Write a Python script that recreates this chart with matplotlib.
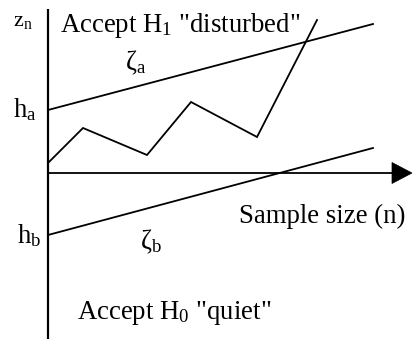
import matplotlib
matplotlib.use("Agg")
import matplotlib.pyplot as plt
from matplotlib.patches import Polygon

plt.rcParams["font.family"] = ["Liberation Serif", "DejaVu Serif"]
plt.rcParams["mathtext.fontset"] = "custom"
plt.rcParams["mathtext.rm"] = "Liberation Serif"
plt.rcParams["mathtext.it"] = "Liberation Serif"
plt.rcParams["mathtext.default"] = "regular"

# Sequential test statistic z_n versus sample size n
walk_n = [0, 35, 99, 143, 209, 269]
walk_z = [10, 45, 18, 71, 36, 153]

# Decision boundaries zeta_a (upper) and zeta_b (lower): intercepts h_a, h_b
bound_n = [0, 325]
zeta_a = [63, 149]
zeta_b = [-62, 25]

n_min, n_max = -48, 366
z_min, z_max = -166, 173

fig = plt.figure(figsize=(4.14, 3.39), dpi=100)
ax = fig.add_axes([0, 0, 1, 1])
ax.set_xlim(n_min, n_max)
ax.set_ylim(z_min, z_max)
ax.axis("off")

lw = 1.3
# axes
ax.plot([0, 0], [z_min, 164], color="black", lw=1.6, solid_capstyle="butt")
head_len, head_half = 21, 10.5
ax.plot([0, n_max - head_len], [0, 0], color="black", lw=1.3, solid_capstyle="butt")
ax.add_patch(Polygon([[n_max - head_len - 1, head_half], [n_max - 2, 0],
                      [n_max - head_len - 1, -head_half]],
                     closed=True, facecolor="black", edgecolor="black", lw=0.5))

# boundaries and random walk
ax.plot(bound_n, zeta_a, color="black", lw=lw)
ax.plot(bound_n, zeta_b, color="black", lw=lw)
ax.plot(walk_n, walk_z, color="black", lw=lw, solid_joinstyle="miter")

fs = 19.3
ax.text(12, 141, 'Accept H$_1$ "disturbed"', fontsize=fs, ha="left", va="baseline")
ax.text(-35, 147, "z$_n$", fontsize=16, ha="left", va="baseline")
ax.text(-35, 56, "h$_a$", fontsize=fs, ha="left", va="baseline")
ax.text(-31, -70, "h$_b$", fontsize=fs, ha="left", va="baseline")
ax.text(77, 103, r"ζ$_a$", fontsize=fs, ha="left", va="baseline")
ax.text(92, -76, r"ζ$_b$", fontsize=fs, ha="left", va="baseline")
ax.text(191, -50, "Sample size (n)", fontsize=fs, ha="left", va="baseline")
ax.text(29, -146, 'Accept H$_0$ "quiet"', fontsize=fs, ha="left", va="baseline")

fig.savefig("out.png", dpi=100)
